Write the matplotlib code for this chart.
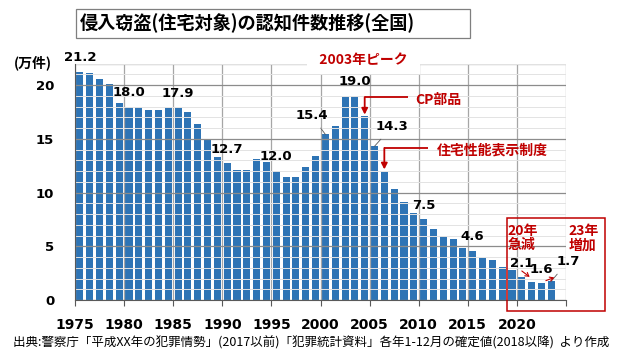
import matplotlib
matplotlib.use("Agg")
import matplotlib.pyplot as plt
import numpy as np
from matplotlib.patches import Rectangle

plt.rcParams['font.family'] = ['Noto Sans CJK JP', 'DejaVu Sans']

# ---------------- data ----------------
years = list(range(1975, 2024))
values = [21.2, 21.1, 20.6, 20.1, 18.3, 18.0, 18.0, 17.7, 17.7, 17.9,
          17.9, 17.5, 16.4, 14.9, 13.3, 12.7, 12.1, 12.1, 13.1, 12.8,
          12.0, 11.4, 11.4, 12.4, 13.4, 15.4, 16.2, 18.9, 19.0, 17.1,
          14.3, 11.9, 10.3, 9.1, 8.1, 7.5, 6.6, 6.0, 5.7, 4.8,
          4.6, 3.9, 3.7, 3.1, 2.8, 2.1, 1.65, 1.55, 1.75]
label_years = [1975, 1980, 1985, 1990, 1995, 2000, 2003, 2005, 2010, 2015, 2020, 2022, 2023]
label_texts = ['21.2', '18.0', '17.9', '12.7', '12.0', '15.4', '19.0', '14.3', '7.5', '4.6', '2.1', '1.6', '1.7']
xtick_years = [1975, 1980, 1985, 1990, 1995, 2000, 2005, 2010, 2015, 2020, 2025]
xtick_labels = ['1975', '1980', '1985', '1990', '1995', '2000', '2005', '2010', '2015', '2020', '']
yticks = [0, 5, 10, 15, 20]

title = '侵入窃盗(住宅対象)の認知件数推移(全国)'
unit_label = '(万件)'
source = '出典:警察庁「平成XX年の犯罪情勢」(2017以前)「犯罪統計資料」各年1-12月の確定値(2018以降)  より作成'
peak_text = '2003年ピーク'
cp_text = 'CP部品'
cp_year = 2004
perf_text = '住宅性能表示制度'
perf_year = 2006
note20 = '20年\n急減'
note23 = '23年\n増加'

# ---------------- style ----------------
W, H = 620, 354
BAR = '#2E74B5'
RED = '#C00000'
fig = plt.figure(figsize=(W / 100, H / 100), dpi=100)
L, R, B, T = 75, 566, 300, 63.5
ax = fig.add_axes([L / W, 1 - B / H, (R - L) / W, (B - T) / H])

x = np.array(years) + 0.5
vals = dict(zip(years, values))
ax.bar(x, values, width=0.72, color=BAR, zorder=2)

ax.set_xlim(1975, 2025)
ax.set_ylim(0, 22)
ax.set_xticks(xtick_years)
ax.set_xticklabels(xtick_labels, fontsize=10, fontweight='bold', family='DejaVu Sans')
ax.set_yticks(yticks)
ax.set_yticklabels([str(v) for v in yticks], fontsize=9.5, fontweight='bold', family='DejaVu Sans')
ax.set_yticks(np.arange(0, 23, 1), minor=True)
ax.tick_params(axis='y', which='both', length=0, pad=15)
ax.tick_params(axis='x', which='major', length=4, width=0.8, color='#595959', pad=9)
ax.tick_params(axis='x', which='minor', length=0)

ax.grid(axis='y', which='minor', color='#E3E3E3', lw=0.7, zorder=1)
ax.grid(axis='y', which='major', color='#8C8C8C', lw=0.9, zorder=3)
ax.grid(axis='x', which='major', color='#A6A6A6', lw=0.9, zorder=1)
ax.set_axisbelow(False)
for s in ['top', 'right']:
    ax.spines[s].set_visible(False)
ax.axhline(22, color='#A6A6A6', lw=0.9, zorder=1)
ax.spines['left'].set_color('#595959')
ax.spines['bottom'].set_color('#595959')
ax.spines['left'].set_zorder(4)
ax.spines['bottom'].set_zorder(4)

# value labels
special = {2000: (-14, 19), 2005: (17.5, 19.5), 2023: (16.5, 19.5)}
for yr, txt in zip(label_years, label_texts):
    bx, by = yr + 0.5, vals[yr]
    if yr in special:
        dx, dy = special[yr]
        ax.annotate(txt, xy=(bx, by), xytext=(dx * 0.72, dy * 0.72), textcoords='offset points',
                    ha='center', va='center', fontsize=9.5, fontweight='bold', family='DejaVu Sans',
                    annotation_clip=False, zorder=6,
                    arrowprops=dict(arrowstyle='-', color='#595959', lw=0.6, shrinkA=3, shrinkB=0))
    else:
        ax.annotate(txt, xy=(bx, by), xytext=(0, 10.3), textcoords='offset points',
                    ha='center', va='center', fontsize=9.5, fontweight='bold', family='DejaVu Sans',
                    annotation_clip=False, zorder=6)

# 2003 peak
ax.text(2004.4, 22.3, '  ' + peak_text + '  ', ha='center', va='center', color=RED,
        fontsize=10, fontweight='bold', clip_on=False, zorder=7,
        bbox=dict(facecolor='white', edgecolor='none', boxstyle='square,pad=0.45'))

# CP parts callout
cx = cp_year + 0.5
ly = 18.88
ax.plot([2008.9, cx], [ly, ly], color=RED, lw=1.3, zorder=6, solid_capstyle='butt')
ax.annotate('', xy=(cx, vals[cp_year] + 0.15), xytext=(cx, ly), zorder=6,
            arrowprops=dict(arrowstyle='-|>,head_length=0.35,head_width=0.18', color=RED, lw=1.3,
                            shrinkA=0, shrinkB=0))
ax.text(2009.6, ly - 0.25, cp_text, ha='left', va='center', color=RED, fontsize=10,
        fontweight='bold', zorder=7)

# performance display system callout
px_ = perf_year + 0.5
ly2 = 14.14
ax.plot([2010.95, px_], [ly2, ly2], color=RED, lw=1.3, zorder=6, solid_capstyle='butt')
ax.annotate('', xy=(px_, vals[perf_year] + 0.25), xytext=(px_, ly2), zorder=6,
            arrowprops=dict(arrowstyle='-|>,head_length=0.35,head_width=0.18', color=RED, lw=1.3,
                            shrinkA=0, shrinkB=0))
ax.text(2011.9, ly2 - 0.2, perf_text, ha='left', va='center', color=RED, fontsize=10,
        fontweight='bold', zorder=7)

# 2020s notes
ax.text(2019.05, 7.1, note20, ha='left', va='top', color=RED, fontsize=10, fontweight='bold',
        linespacing=1.05, zorder=7, clip_on=False)
ax.text(2025.3, 7.1, note23, ha='left', va='top', color=RED, fontsize=10, fontweight='bold',
        linespacing=1.05, zorder=7, clip_on=False)
ax.annotate('', xy=(2021.3, 2.15), xytext=(2020.5, 2.7), annotation_clip=False, zorder=7,
            arrowprops=dict(arrowstyle='->,head_length=0.25,head_width=0.15', color=RED, lw=0.8,
                            shrinkA=0, shrinkB=0))
ax.annotate('', xy=(2023.8, 2.1), xytext=(2022.95, 1.8), annotation_clip=False, zorder=7,
            arrowprops=dict(arrowstyle='->,head_length=0.25,head_width=0.15', color=RED, lw=0.8,
                            shrinkA=0, shrinkB=0))
fig.patches.append(Rectangle((507 / W, 1 - 311 / H), 98 / W, 93 / H, transform=fig.transFigure,
                             fill=False, edgecolor=RED, lw=1.1, zorder=8))

# title
fig.patches.append(Rectangle((76 / W, 1 - 38 / H), (470 - 76) / W, 29 / H, transform=fig.transFigure,
                             facecolor='white', edgecolor='#7F7F7F', lw=0.9, zorder=1))
fig.text(80 / W, 1 - 23.5 / H, title, ha='left', va='center', fontsize=13.1, fontweight='bold',
         zorder=2)

# unit label
fig.text(33 / W, 1 - 63 / H, unit_label, ha='center', va='center', fontsize=10, fontweight='bold')

# source
fig.text(311 / W, 1 - 343 / H, source, ha='center', va='center', fontsize=9.0)

fig.savefig('out.png', dpi=100)
